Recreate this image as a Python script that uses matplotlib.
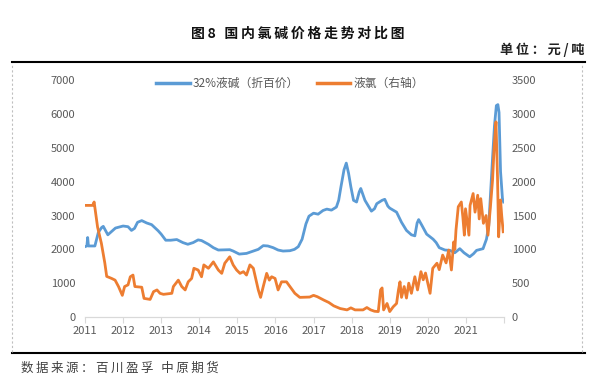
import matplotlib

matplotlib.use("Agg")
import matplotlib.pyplot as plt
from matplotlib.lines import Line2D

plt.rcParams["font.family"] = ["Noto Sans CJK SC", "DejaVu Sans"]

# 32% liquid caustic soda (100% basis), left axis, decimal year -> yuan/t
soda_t = [2011.00, 2011.05, 2011.07, 2011.09, 2011.26, 2011.35, 2011.44, 2011.48, 2011.60, 2011.80,
          2012.00, 2012.13, 2012.22, 2012.30, 2012.38, 2012.49, 2012.62, 2012.75, 2012.92, 2013.00,
          2013.12, 2013.25, 2013.41, 2013.57, 2013.70, 2013.84, 2013.97, 2014.06, 2014.24, 2014.37,
          2014.50, 2014.80, 2014.89, 2015.05, 2015.24, 2015.42, 2015.55, 2015.68, 2015.80, 2015.94,
          2016.07, 2016.20, 2016.38, 2016.50, 2016.60, 2016.70, 2016.80, 2016.88, 2017.00, 2017.12,
          2017.25, 2017.35, 2017.47, 2017.60, 2017.66, 2017.72, 2017.80, 2017.86, 2017.92, 2017.98,
          2018.05, 2018.13, 2018.20, 2018.24, 2018.35, 2018.52, 2018.60, 2018.66, 2018.80, 2018.87,
          2018.95, 2019.00, 2019.18, 2019.31, 2019.44, 2019.57, 2019.66, 2019.72, 2019.76, 2019.84,
          2019.97, 2020.14, 2020.22, 2020.30, 2020.45, 2020.58, 2020.71, 2020.84, 2020.95, 2021.10,
          2021.20, 2021.28, 2021.45, 2021.54, 2021.60, 2021.65, 2021.70, 2021.75, 2021.80, 2021.84,
          2021.87, 2021.91, 2021.96, 2021.99]
soda_v = [2080, 2100, 2350, 2100, 2100, 2500, 2650, 2680, 2430, 2630,
          2690, 2670, 2560, 2620, 2800, 2850, 2780, 2730, 2550, 2450,
          2270, 2270, 2290, 2200, 2150, 2200, 2280, 2260, 2150, 2050,
          1980, 1990, 1950, 1860, 1880, 1950, 2000, 2110, 2100, 2050,
          1980, 1950, 1960, 2000, 2080, 2300, 2750, 2980, 3070, 3040,
          3150, 3190, 3160, 3250, 3450, 3850, 4350, 4550, 4250, 3850,
          3450, 3400, 3700, 3800, 3450, 3130, 3200, 3350, 3450, 3480,
          3280, 3220, 3100, 2800, 2560, 2430, 2400, 2780, 2880, 2720,
          2450, 2300, 2200, 2050, 1980, 1970, 1900, 2020, 1900, 1780,
          1870, 1970, 2020, 2300, 2700, 3700, 4700, 5650, 6250, 6280,
          6050, 4300, 3500, 3400]

# liquid chlorine, right axis
chlor_t = [2011.00, 2011.20, 2011.24, 2011.28, 2011.33, 2011.43, 2011.52, 2011.57, 2011.70, 2011.79,
           2011.88, 2011.98, 2012.04, 2012.13, 2012.19, 2012.26, 2012.31, 2012.49, 2012.55, 2012.71,
           2012.80, 2012.89, 2012.97, 2013.06, 2013.28, 2013.32, 2013.45, 2013.54, 2013.63, 2013.71,
           2013.80, 2013.86, 2013.97, 2014.06, 2014.12, 2014.24, 2014.37, 2014.50, 2014.59, 2014.67,
           2014.80, 2014.89, 2014.98, 2015.07, 2015.16, 2015.24, 2015.33, 2015.42, 2015.49, 2015.55,
           2015.61, 2015.68, 2015.77, 2015.84, 2015.90, 2015.99, 2016.07, 2016.16, 2016.29, 2016.38,
           2016.51, 2016.64, 2016.90, 2017.00, 2017.10, 2017.27, 2017.40, 2017.53, 2017.70, 2017.88,
           2017.98, 2018.09, 2018.30, 2018.40, 2018.50, 2018.60, 2018.70, 2018.76, 2018.80, 2018.84,
           2018.93, 2019.00, 2019.09, 2019.18, 2019.23, 2019.27, 2019.31, 2019.38, 2019.44, 2019.50,
           2019.57, 2019.66, 2019.73, 2019.82, 2019.88, 2019.94, 2020.06, 2020.13, 2020.24, 2020.30,
           2020.39, 2020.48, 2020.55, 2020.62, 2020.68, 2020.71, 2020.74, 2020.80, 2020.88, 2020.92,
           2020.96, 2020.99, 2021.08, 2021.11, 2021.19, 2021.24, 2021.31, 2021.35, 2021.39, 2021.46,
           2021.53, 2021.58, 2021.64, 2021.70, 2021.74, 2021.79, 2021.83, 2021.86, 2021.91, 2021.94,
           2021.98]
chlor_v = [1650, 1650, 1700, 1530, 1330, 1090, 800, 600, 570, 545,
           450, 320, 450, 475, 595, 620, 450, 440, 275, 260,
           375, 400, 350, 335, 350, 450, 545, 450, 400, 520,
           570, 720, 695, 595, 770, 720, 815, 695, 645, 795,
           890, 770, 695, 645, 670, 620, 770, 720, 545, 400,
           290, 450, 645, 545, 595, 570, 400, 520, 520, 450,
           350, 290, 295, 320, 300, 250, 215, 165, 125, 105,
           135, 105, 105, 140, 105, 85, 80, 400, 430, 105,
           200, 80, 150, 200, 400, 520, 290, 450, 280, 500,
           350, 595, 400, 670, 550, 650, 350, 720, 795, 700,
           915, 800, 990, 695, 1110, 1000, 1285, 1630, 1700, 1480,
           1210, 1600, 1210, 1650, 1825, 1550, 1800, 1450, 1750, 1385,
           1500, 1210, 1600, 2025, 2490, 2885, 2070, 1185, 1730, 1500,
           1260]

years = list(range(2011, 2023))
year_labels = [str(y) for y in range(2011, 2022)] + [""]
left_ticks = list(range(0, 7001, 1000))
right_ticks = list(range(0, 3501, 500))

blue = "#5B9BD5"
orange = "#ED7D31"
tick_color = "#595959"


def spaced(text):
    # the original headings are set with loose letter spacing
    return "\u2009".join(text)


fig = plt.figure(figsize=(5.96, 3.80), dpi=100)
ax = fig.add_axes([0.1426, 0.1658, 0.703, 0.623])
ax2 = ax.twinx()

ax.plot(soda_t, soda_v, color=blue, linewidth=2.0)
ax2.plot(chlor_t, chlor_v, color=orange, linewidth=2.0)

ax.set_xlim(2011, 2022)
ax.set_ylim(0, 7000)
ax2.set_ylim(0, 3500)
ax.set_xticks(years)
ax.set_xticklabels(year_labels)
ax.set_yticks(left_ticks)
ax2.set_yticks(right_ticks)

for a in (ax, ax2):
    for side in ("top", "left", "right"):
        a.spines[side].set_visible(False)
    a.spines["bottom"].set_color("#d9d9d9")
    a.tick_params(labelsize=8, labelcolor=tick_color)
ax.tick_params(axis="x", direction="out", length=4.5, width=0.8, color="#d9d9d9", pad=2)
ax.tick_params(axis="y", length=0, pad=7)
ax2.tick_params(axis="y", length=0, pad=5.5)

handles = [Line2D([], [], color=blue, linewidth=2.5), Line2D([], [], color=orange, linewidth=2.5)]
ax.legend(handles, ["32%液碱（折百价）", "液氯（右轴）"], loc="center", bbox_to_anchor=(0.49, 0.985),
          ncol=2, frameon=False, fontsize=8.5, handlelength=2.8, handletextpad=0.3, columnspacing=1.5,
          labelcolor=tick_color)

fig.text(297.5 / 596, 1 - 34 / 380, spaced("图8 国内氯碱价格走势对比图"), ha="center", va="center",
         fontsize=10, fontweight="bold", color="#111111")
fig.text(584 / 596, 1 - 50 / 380, spaced("单位：元/吨"), ha="right", va="center", fontsize=9.5,
         fontweight="bold", color="#222222")
fig.text(21 / 596, 1 - 368 / 380, spaced("数据来源：百川盈孚 中原期货"), ha="left", va="center",
         fontsize=9, color="#404040")

x0, x1 = 12 / 596, 585 / 596
fig.add_artist(Line2D([x0, x1], [1 - 62 / 380, 1 - 62 / 380], color="black", linewidth=1.5))
fig.add_artist(Line2D([x0, x1], [1 - 353 / 380, 1 - 353 / 380], color="black", linewidth=1.5))
for xv in (12 / 596, 582 / 596):
    fig.add_artist(Line2D([xv, xv], [1 - 352 / 380, 1 - 63 / 380], color="#bfbfbf",
                          linewidth=0.8, linestyle=(0, (2, 2))))

fig.savefig("out.png", dpi=100)
plt.close(fig)
